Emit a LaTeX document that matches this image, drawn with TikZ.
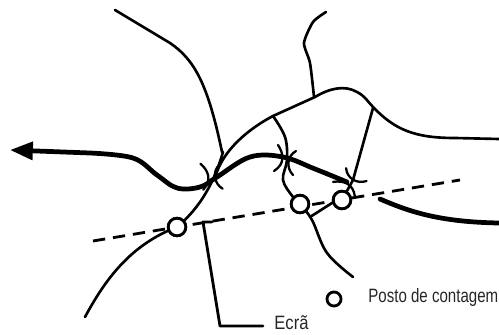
\documentclass[tikz,border=0pt]{standalone}
\usepackage{fontspec}
\setmainfont[FakeStretch=0.86]{Liberation Sans}
\newfontfamily\postofont[FakeStretch=0.78]{Liberation Sans}
\usetikzlibrary{arrows.meta}
\tikzset{
  road/.style={line width=1.5pt,line cap=round,line join=round},
  mainroad/.style={line width=2.7pt,line cap=round,line join=round},
  screenline/.style={line width=1.6pt,dash pattern=on 7pt off 4.5pt},
  post/.style={circle,draw,line width=1.6pt,fill=white,minimum size=10pt,inner sep=0pt},
  legendtext/.style={font=\fontsize{11}{13}\selectfont,text=black!85,inner sep=0pt},
  bridgemark/.pic={
    \draw[line width=1.3pt,line cap=round] (-8,-15) .. controls (-2,-6) and (-1,4) .. (-12,11);
    \draw[line width=1.3pt,line cap=round] (10,-9) .. controls (1,-4) and (0,8) .. (7,15);
  }
}
\begin{document}
\begin{tikzpicture}[x=0.02cm,y=-0.02cm]
\useasboundingbox (0,0) rectangle (499,334);
% count posts
\node[post] (postA) at (177,227) {};
\node[post] (postB) at (300,204) {};
\node[post] (postC) at (342,200) {};
% screen line
\coordinate (screenW) at (93,241);
\coordinate (screenE) at (460,180);
\draw[screenline] (screenW) -- (screenE);
% roads
\draw[mainroad,-{Triangle[length=13pt,width=10pt]}] plot[smooth,tension=0.6] coordinates {(347,182) (315,169) (283,157) (250,157) (217,177) (200,187) (177,188) (157,175) (133,158) (90,153)} -- (10,150);
\draw[mainroad] (380,199) .. controls (410,212) and (440,222) .. (499,223);
\draw[road] (215,178) .. controls (222,150) and (250,128) .. (273,116) -- (315,97) .. controls (330,88) and (345,85) .. (357,92) .. controls (365,96) and (368,102) .. (373,107) .. controls (395,130) and (415,138) .. (455,138) -- (499,139);
\draw[road] (115,10) -- (170,43) .. controls (195,60) and (208,85) .. (222,152);
\draw[road] plot[smooth,tension=0.4] coordinates {(326,12) (313,22) (304,43) (310,63) (314,97)};
\draw[road] (85,317) .. controls (105,280) and (130,245) .. (177,227);
\draw[road] (177,227) .. controls (195,212) and (212,190) .. (223,152);
\draw[road] plot[smooth,tension=0.6] coordinates {(273,116) (285,137) (287,160) (283,180) (293,197) (300,204)};
\draw[road] plot[smooth,tension=0.6] coordinates {(300,204) (312,220) (327,253) (353,277)};
\draw[road] (310,217) -- (332,203) -- (postC);
\draw[road] (373,108) -- (353,180) -- (postC);
% bridges
\pic[rotate=15] at (212,176) {bridgemark};
\pic at (286,160) {bridgemark};
\pic[rotate=65] at (350,181) {bridgemark};
% posts again on top of the roads
\node[post] at (postA) {};
\node[post] at (postB) {};
\node[post] at (postC) {};
% legend
\node[post,minimum size=8pt] (legendpost) at (334,299) {};
\node[legendtext,anchor=west] (legendlabel) at (368,297) {\postofont Posto de contagem};
\node[legendtext,anchor=west] (screenlabel) at (274,323) {Ecrã};
\coordinate (screentick) at (212,222);
\draw[road,line width=1.6pt] (screentick) -- (203,222) -- (220,326) -- (263,326);
\end{tikzpicture}
\end{document}
